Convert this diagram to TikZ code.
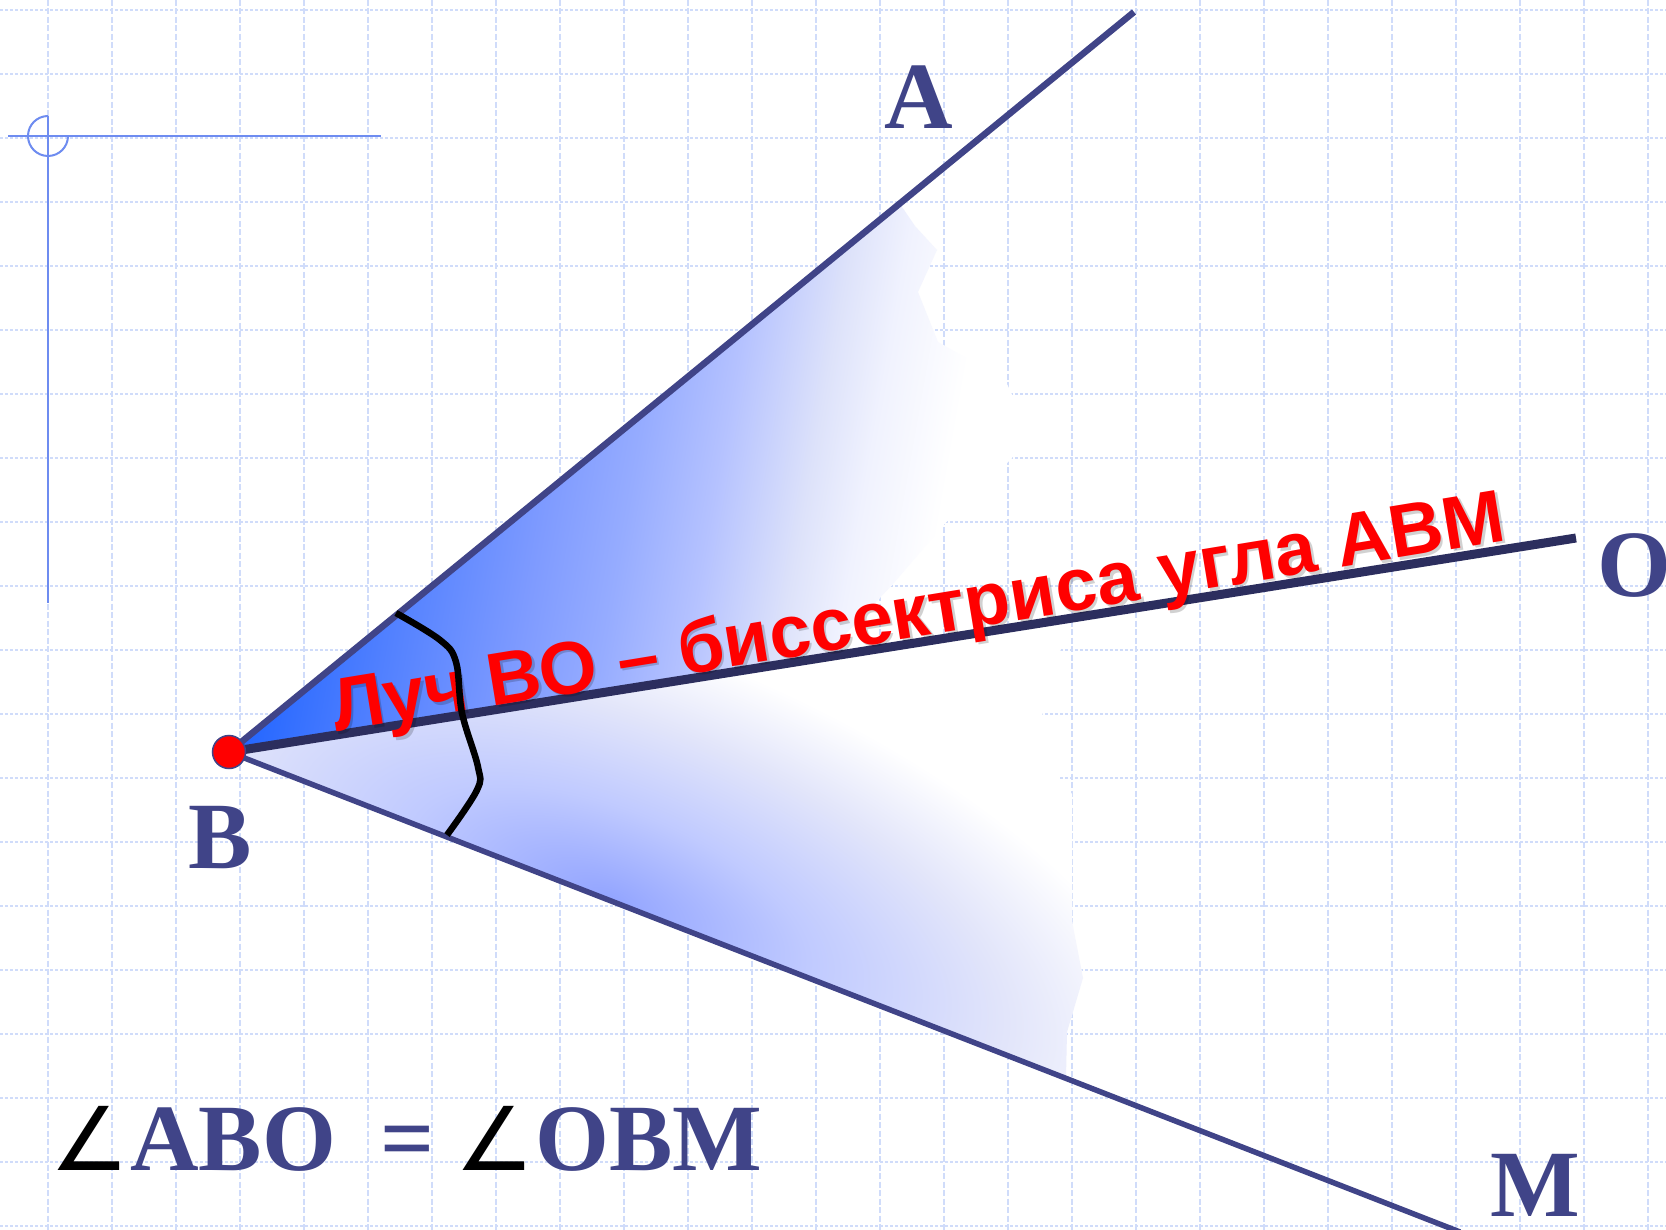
\documentclass[tikz,border=0pt]{standalone}
\usepackage{fontspec}
\setmainfont{Liberation Serif}
\newfontfamily\lsans{Liberation Sans}
\newfontfamily\djv{DejaVu Sans}
\definecolor{navy}{RGB}{64,68,136}
\definecolor{rayO}{RGB}{44,46,94}
\definecolor{gridc}{RGB}{208,220,250}
\definecolor{crossc}{RGB}{110,140,240}
\definecolor{u0}{RGB}{32,100,255}
\definecolor{u1}{RGB}{79,127,255}
\definecolor{u2}{RGB}{127,155,255}
\definecolor{u3}{RGB}{150,172,255}
\definecolor{u4}{RGB}{181,194,255}
\definecolor{u5}{RGB}{221,226,250}
\definecolor{u6}{RGB}{240,242,254}
\definecolor{lowc}{RGB}{146,164,255}
\definecolor{low1}{RGB}{192,202,255}
\definecolor{low2}{RGB}{226,229,250}
\pgfdeclarehorizontalshading{upshade}{100bp}{color(0bp)=(u0); color(25bp)=(u0); color(33.1bp)=(u1); color(41.9bp)=(u2); color(46.9bp)=(u3); color(52.1bp)=(u4); color(57.75bp)=(u5); color(61.25bp)=(u6); color(66.25bp)=(white); color(100bp)=(white)}
\pgfdeclareradialshading{lowrad}{\pgfpoint{0bp}{0bp}}{color(0bp)=(lowc); color(8.75bp)=(low1); color(17.5bp)=(low2); color(25bp)=(white); color(50bp)=(white)}
\begin{document}
\begin{tikzpicture}[x=1pt,y=-1pt,
  gridv/.style={draw=gridc, line width=2.4pt, dash pattern=on 6pt off 2.5pt},
  gridh/.style={draw=gridc, line width=2.6pt, dash pattern=on 3pt off 2pt},
  crossline/.style={draw=crossc, line width=2pt},
  rayline/.style={draw=navy, line width=6.5pt},
  lbl/.style={text=navy, inner sep=0pt, font=\fontsize{95}{100}\selectfont\bfseries},
  formula/.style={text=navy, inner sep=0pt, anchor=base west, font=\fontsize{95}{100}\selectfont\bfseries},
  angsym/.style={text=black, inner sep=0pt, anchor=base west, font=\djv\fontsize{88}{100}\selectfont},
  redtext/.style={text=red, inner sep=0pt, anchor=base west, rotate=9.3, font=\lsans\fontsize{74.6}{80}\selectfont\bfseries},
  shadowtext/.style={text=black, opacity=0.18, inner sep=0pt, anchor=base west, rotate=9.3, font=\lsans\fontsize{74.6}{80}\selectfont\bfseries}
]
\useasboundingbox (0,0) rectangle (1666,1230);
\clip (0,0) rectangle (1666,1230);
\fill[white] (0,0) rectangle (1666,1230);

% grid
\foreach \x in {48,112,...,1648} \draw[gridv] (\x,0) -- (\x,1230);
\foreach \y in {10,74,...,1226} \draw[gridh] (0,\y) -- (1666,\y);

% crosshair decoration
\draw[crossline] (8,136) -- (381,136);
\draw[crossline] (48,116) -- (48,603);
\draw[crossline] (48,116) arc[start angle=90, end angle=360, radius=20pt];

% key points
\coordinate (Bc) at (229,752);
\coordinate (Aend) at (1134,12);
\coordinate (Oend) at (1576,538);
\coordinate (Mend) at (1460,1232);

% upper sector fill
\begin{scope}
  \clip (Bc) -- (900,204) -- (915,226) -- (937,250) -- (918,292) -- (938,342) -- (1005,380)
        -- (1012,395) -- (1012,458) -- (947,521) -- (893,584) -- (823,658) -- cycle;
  \fill[white] (0,0) rectangle (1666,1230);
  \begin{scope}[transform canvas={rotate around={-10:(Bc)}}]
    \shade[shading=upshade] (229,-300) rectangle (1029,1800);
  \end{scope}
\end{scope}

% lower sector fill
\begin{scope}
  \clip (Bc) -- (1072,618) -- (1050,680) -- (1042,716) -- (1040,752) -- (1060,779) -- (1072,794)
        -- (1072,921) -- (1083,978) -- (1067,1032) -- (1066,1078) -- cycle;
  \fill[white] (0,0) rectangle (1666,1230);
  \begin{scope}[transform canvas={rotate around={-21.3:(610,900)}}]
    \shade[shading=lowrad] (610,900) ellipse [x radius=600pt, y radius=260pt];
  \end{scope}
\end{scope}

% rays
\draw[rayline] (Bc) -- (Aend);
\draw[rayline, line width=5.5pt] (Bc) -- (Mend);
\draw[rayline, draw=rayO, line width=9pt] (Bc) -- (Oend);

% bisector text
\node[shadowtext] (tshadow) at (338.5,734.5) {Луч ВО – биссектриса угла АВМ};
\node[redtext] (tbis) at (336,732) {Луч ВО – биссектриса угла АВМ};

% angle arc
\draw[black, line width=6.5pt] plot[smooth, tension=0.6] coordinates {(396,613) (440,640) (456,662) (462,713) (478,767) (477,790) (447,835)};

% vertex
\node[circle, fill=red, draw=navy, line width=1.5pt, minimum size=33pt, inner sep=0pt] (B) at (Bc) {};

% labels
\node[lbl] (labA) at (919,97) {A};
\node[lbl] (labO) at (1634,566) {O};
\node[lbl] (labM) at (1535,1185) {M};
\node[lbl] (labB) at (220,838) {B};

% equality
\node[angsym] (ang1) at (50,1170) {∠};
\node[formula] (abo) at (130,1170) {ABO};
\node[formula] (eq) at (380,1170) {=};
\node[angsym] (ang2) at (455,1170) {∠};
\node[formula] (obm) at (535,1170) {OBM};
\end{tikzpicture}
\end{document}
